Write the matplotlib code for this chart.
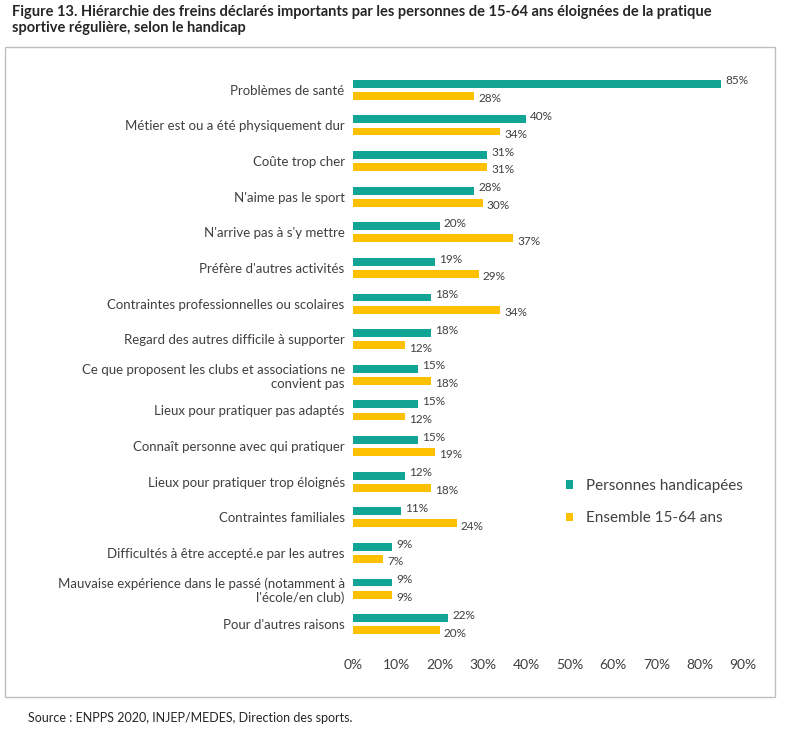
import matplotlib.pyplot as plt
import numpy as np
from matplotlib.patches import Rectangle

plt.rcParams['font.family'] = ['Lato', 'DejaVu Sans']

categories = [
    "Problèmes de santé",
    "Métier est ou a été physiquement dur",
    "Coûte trop cher",
    "N'aime pas le sport",
    "N'arrive pas à s'y mettre",
    "Préfère d'autres activités",
    "Contraintes professionnelles ou scolaires",
    "Regard des autres difficile à supporter",
    "Ce que proposent les clubs et associations ne\nconvient pas",
    "Lieux pour pratiquer pas adaptés",
    "Connaît personne avec qui pratiquer",
    "Lieux pour pratiquer trop éloignés",
    "Contraintes familiales",
    "Difficultés à être accepté.e par les autres",
    "Mauvaise expérience dans le passé (notamment à\nl'école/en club)",
    "Pour d'autres raisons",
]
handicap = [85, 40, 31, 28, 20, 19, 18, 18, 15, 15, 15, 12, 11, 9, 9, 22]
ensemble = [28, 34, 31, 30, 37, 29, 34, 12, 18, 12, 19, 18, 24, 7, 9, 20]
ticks = [0, 10, 20, 30, 40, 50, 60, 70, 80, 90]

teal = "#12a595"
yellow = "#ffc000"

fig = plt.figure(figsize=(8, 7.29), dpi=100)
fig.patches.append(Rectangle((5/800, 1-697/729), 770/800, 650/729, transform=fig.transFigure,
                             fill=False, edgecolor="#bfbfbf", linewidth=1))
ax = fig.add_axes([353/800, 1-642/729, 390/800, 570/729])

y = np.arange(len(categories))
h = 0.22
off = 0.17
ax.barh(y - off, handicap, height=h, color=teal, label="Personnes handicapées")
ax.barh(y + off, ensemble, height=h, color=yellow, label="Ensemble 15-64 ans")
for i in range(len(categories)):
    ax.text(handicap[i] + 0.9, y[i] - off - 0.08, f"{handicap[i]}%", va="center", fontsize=8.5, color="#404040")
    ax.text(ensemble[i] + 0.9, y[i] + off + 0.08, f"{ensemble[i]}%", va="center", fontsize=8.5, color="#404040")

ax.set_yticks(y)
ax.set_yticklabels(categories, fontsize=9.5, color="#404040", ha="right")
ax.set_ylim(len(categories) - 0.5, -0.5)
ax.set_xlim(0, 90)
ax.set_xticks(ticks)
ax.set_xticklabels([f"{t}%" for t in ticks], fontsize=10, color="#404040")
for s in ax.spines.values():
    s.set_visible(False)
ax.tick_params(length=0, pad=6)
ax.tick_params(axis="x", pad=12)

ax.legend(loc="upper left", bbox_to_anchor=(0.51, 0.31), frameon=False, fontsize=11,
          handlelength=0.5, handleheight=0.5, labelspacing=1.2, labelcolor="#404040")

fig.text(12/800, 1-20/729, "Figure 13. Hiérarchie des freins déclarés importants par les personnes de 15-64 ans éloignées de la pratique\nsportive régulière, selon le handicap",
         fontsize=10.5, fontweight="bold", va="center", color="#262626", linespacing=1.2)
fig.text(28/800, 1-718/729, "Source : ENPPS 2020, INJEP/MEDES, Direction des sports.", fontsize=9, va="center", color="#262626")

fig.savefig("out.png", dpi=100)
